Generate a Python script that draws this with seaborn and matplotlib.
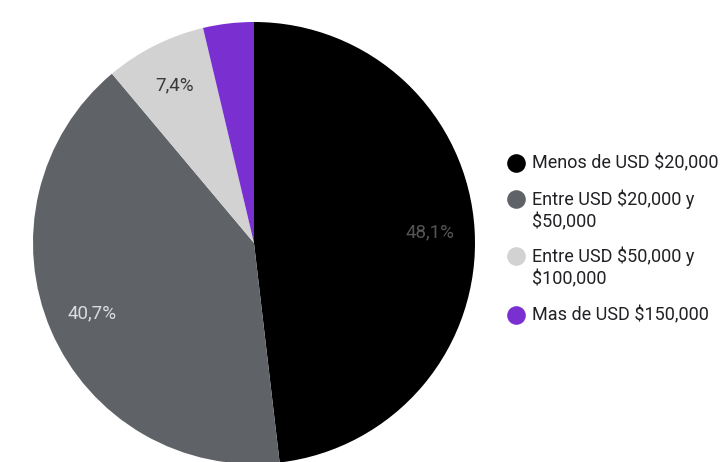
import matplotlib
matplotlib.use("Agg")
import matplotlib.pyplot as plt
import seaborn as sns

# income brackets and answer counts
labels = ["Menos de USD $20,000", "Entre USD $20,000 y\n$50,000",
          "Entre USD $50,000 y\n$100,000", "Mas de USD $150,000"]
counts = [13, 11, 2, 1]
colors = ["#000000", "#5f6368", "#d2d2d2", "#7a2fd1"]
pct_colors = ["#555555", "#dcdcdc", "#3a3a3a", "#ffffff"]

sns.set_theme(style="white")
plt.rcParams["font.family"] = ["Roboto", "DejaVu Sans"]

fig = plt.figure(figsize=(7.24, 4.62), dpi=100)
ax = fig.add_axes([0, 0, 1, 1])


def fmt(p):
    if p < 5:
        return ""
    return f"{p:.1f}%".replace(".", ",")


wedges, texts, autotexts = ax.pie(
    counts, colors=colors, startangle=90, counterclock=False,
    center=(254, 219), radius=221, autopct=fmt, pctdistance=0.8,
    textprops={"fontsize": 13.5}, wedgeprops={"linewidth": 0},
    frame=True,
)
ax.set_xlim(0, 724)
ax.set_ylim(0, 462)
ax.set_aspect("equal")
ax.axis("off")
for t, c in zip(autotexts, pct_colors):
    t.set_color(c)

# legend drawn by hand so the dot sits on the first line of wrapped labels
row_top = [163, 199, 256, 315]
for lab, c, y in zip(labels, colors, row_top):
    yy = 462 - y
    ax.scatter([516], [yy], s=180, color=c, linewidths=0, clip_on=False)
    for i, line in enumerate(lab.split("\n")):
        ax.text(532, yy - i * 23, line, fontsize=13, color="#202124",
                va="center", ha="left", clip_on=False)

fig.savefig("out.png", dpi=100)
